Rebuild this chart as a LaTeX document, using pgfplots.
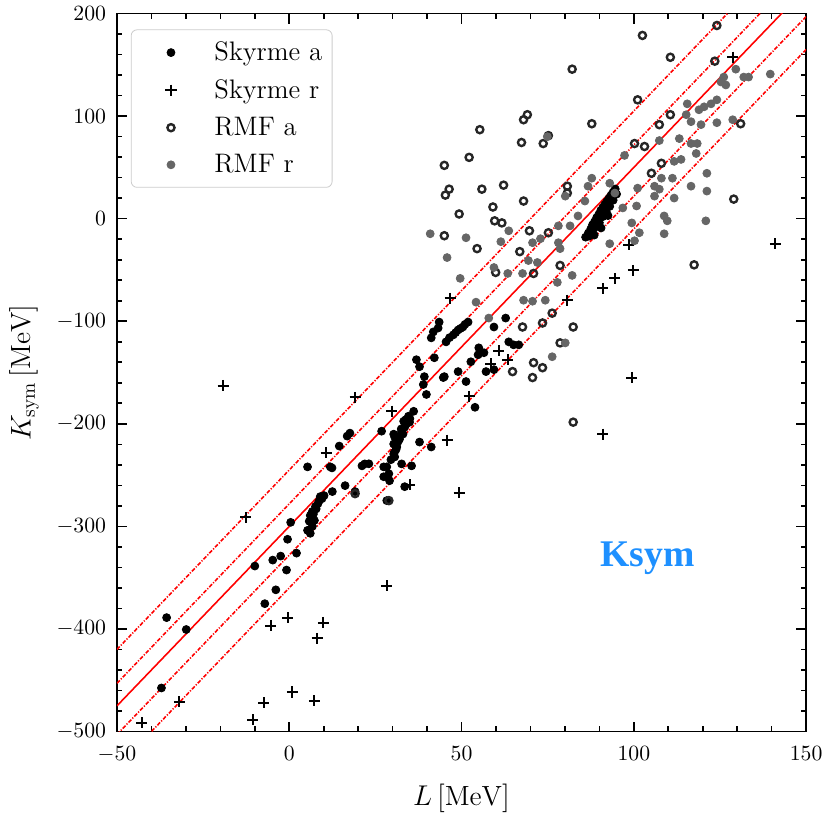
\documentclass[border=0pt]{standalone}
\usepackage{fontspec}
\usepackage{pgfplots}
\pgfplotsset{compat=1.18}
\newfontfamily\ksymfont{Liberation Serif}
\definecolor{dodger}{RGB}{30,144,255}
\pgfplotsset{mylegend/.style={legend image code/.code={\path[draw=none,fill=none] (0cm,-0.1cm) rectangle (1.3cm,0.1cm); \draw[##1] plot coordinates {(0.6cm,0cm)};}}}
\begin{document}
\begin{tikzpicture}
\begin{axis}[
  width=347.5pt, height=362pt, scale only axis,
  xmin=-50, xmax=150, ymin=-500, ymax=200,
  xtick={-50,0,50,100,150}, ytick={-500,-400,-300,-200,-100,0,100,200},
  minor x tick num=4, minor y tick num=4,
  tick align=inside, tick pos=both,
  major tick length=5pt, minor tick length=2.6pt,
  every tick/.style={black, line width=0.8pt},
  axis line style={line width=0.8pt},
  tick label style={font=\fontsize{11}{13}\selectfont},
  xticklabel style={yshift=-4pt},
  yticklabel style={xshift=-2pt},
  label style={font=\fontsize{14}{16}\selectfont},
  xlabel style={yshift=-4pt},
  ylabel style={yshift=2pt},
  xlabel={$L\,[\mathrm{MeV}]$},
  ylabel={$K_{\mathrm{sym}}\,[\mathrm{MeV}]$},
  legend cell align=left,
  legend style={at={(0.02,0.978)}, anchor=north west, draw=black!20, rounded corners=3pt,
    font=\fontsize{13.5}{15}\selectfont, row sep=4pt, inner xsep=3pt, inner ysep=4pt},
]
% Skyrme a
\addplot[only marks, mark=*, mark size=2pt, black, mylegend] table {
x y
-35.6 -389
-29.9 -400.6
-37.1 -457.6
-10 -338.7
-4.8 -332.9
-2.5 -329
2.1 -326.1
-0.8 -342.6
-3.9 -361.9
-7.1 -375.4
0.4 -296.1
-0.5 -312.6
5.3 -303.9
6.1 -306.8
6.7 -300
7.3 -294.2
6.7 -285.5
7.6 -280.7
8.7 -274.9
10.1 -270
12.5 -266.1
16.2 -260.3
19.1 -266.1
6.1 -289.4
9 -271
11.9 -242
5.3 -242
12.4 -243
14.5 -221.7
16.8 -212
17.6 -209.1
21.1 -241
23.1 -239
21.9 -239.1
27.4 -242
27.4 -251.6
28.9 -248.7
29.1 -255.5
28.3 -274.9
33.5 -261.3
26.8 -207.2
30.3 -210.1
30.3 -219.7
30.3 -229.4
30.6 -232.3
31.2 -222.6
30.6 -213
32.6 -207.2
33.5 -203.3
33.2 -197.5
34.9 -198.4
34.6 -192.6
36.1 -187.8
32.6 -239.1
35.5 -241
37.8 -217.8
41.2 -222.6
28.3 -242
31 -225
32 -215
33 -210
34 -200
35 -195
31.5 -218
32.5 -205
29.5 -235
30.5 -228
33.8 -196
31.8 -212
7.8 -283
8.3 -278
9.5 -273
5.8 -295
6.5 -292
7 -288
36.9 -137.5
37.8 -144.3
39.2 -154
38.9 -161.7
39.8 -171.4
42.1 -135.6
44.7 -154.9
45 -154
49 -149.1
51.3 -158.8
52.7 -139.5
53.9 -183.9
55 -125.9
56.5 -130.7
57.1 -149.1
59.4 -147.2
54.8 -132.7
41.8 -110.4
41.2 -116.2
43.5 -100.8
43.2 -106.6
45.5 -120.1
47.6 -113.3
49 -108.5
50.4 -105.6
51.9 -100.8
46.5 -116
48.3 -111
49.7 -107
51 -103
63.7 -120.1
65.1 -123
66.6 -123
62.8 -96.9
59.4 -105.6
86 -18
86.8 -14
87.5 -10
88 -6
88.6 -3
89.2 1
89.8 4
90.4 8
91 11
91.6 14
92.2 17
92.8 20
93.4 23
94 26
94.6 29
87 -17
88 -12
89 -8
90 -4
91 2
92 7
93 12
94 18
95 24
88.5 -16
90.5 -9
92.5 3
};
\addlegendentry{Skyrme a}
% Skyrme r
\addplot[only marks, mark=+, mark size=2.8pt, line width=1pt, black, mylegend] table {
x y
-42.8 -491.5
-31.9 -471.2
-10.6 -488.6
-5.4 -396.7
-0.5 -389
-7.4 -472.1
0.9 -461.5
9.9 -393.8
8.1 -409.3
7.3 -470.2
28.3 -358
-19.2 -162.7
-12.6 -291.3
19.1 -174.3
29.7 -187.8
10.7 -228.4
45.8 -215.9
49.3 -267.1
52.2 -173.3
34.9 -259.4
46.7 -77.6
60.8 -128.8
58.5 -141.4
63.4 -137.5
80.7 -79.5
98.5 -25.5
99.9 -50.5
94.5 -58.2
91 -67.9
99.4 -154.9
91 -210
128.7 157.4
141.1 -24.4
};
\addlegendentry{Skyrme r}
% RMF a
\addplot[only marks, mark=o, mark size=1.8pt, line width=1.2pt, black!85, mylegend] table {
x y
69.1 101.4
68 96.5
55.3 86.8
75.2 81
73.7 73.3
67.4 74.3
52.2 59.8
45 52
46.4 28.8
45.3 23
55.9 28.8
62.2 32.7
68 17.2
59.1 11.4
49.3 4.6
59.6 -2.1
61.7 -4.1
45 -16.6
54.5 -29.2
66.9 -32.1
69.7 -11.8
75.2 -13.7
80.7 25
80.7 31.7
82.1 145.8
102.5 178.7
110.6 157.4
124.1 188.4
123.5 153.6
101.1 115.9
110.6 101.4
107.4 91.7
87.8 92.6
100.2 73.3
103.1 70.4
129 19.1
108 54
105.1 44.3
78.6 -45.6
70.9 -53.4
59.9 -52.4
67.7 -105.6
73.5 -101.7
76.3 -92.1
70.9 -140.4
73.5 -145.3
70.6 -154.9
64.8 -149.1
82.4 -198.4
82.4 -105.6
78.6 -121.1
131 92.6
117.5 -45
28.9 -274.9
19.1 -268.1
};
\addlegendentry{RMF a}
% RMF r
\addplot[only marks, mark=*, mark size=2pt, black!60, mylegend] table {
x y
63.7 -11.8
40.9 -14.7
51.3 -18.6
61.4 -22.4
45.8 -37.9
49.6 -58.2
72.9 -19.5
70.6 -23.4
72 -42.7
69.4 -40.8
78.1 -7
78.6 -29.2
82.1 -55.3
77.8 -62.1
67.7 -53.4
63.4 -53.4
59.4 -47.6
74.9 80
126.1 138.1
126.7 130.4
125.3 133.3
129.6 145.8
131.9 138.1
133.3 138.1
139.6 141
115.5 112
118.9 106.2
120.4 109.1
122.4 112
124.1 115.9
115.2 101.4
116.6 94.6
119.5 91.7
124.1 93.6
128.7 96.5
107.4 76.2
97.3 61.7
113.2 78.1
116.6 73.3
118.4 73.3
118.1 63.6
113.7 57.8
111.7 55.9
121.2 44.3
116.6 31.7
121.2 26.9
108 39.5
111.2 39.5
106 31.7
107.4 28.8
106 22
111.7 20.1
100.8 12.4
108.8 2.7
109.7 -2.1
120.9 -2.1
108.8 -14.7
101.6 -13.7
99.4 -4.1
100.2 -21.5
93 -24.4
101.1 29.8
96.8 10.5
94.5 25
93 34.6
86.7 31.7
80.1 22
85.8 17.2
83.8 2.7
81.5 -7
78.1 -23.4
87.8 39.5
68 -79.5
74.3 -79.5
70.6 -80.5
76.3 -134.6
80.1 -121.1
54.2 -81.4
57.9 -96.9
};
\addlegendentry{RMF r}
% fit lines
\addplot[red, line width=0.8pt, dash pattern=on 2pt off 0.8pt on 0.6pt off 0.8pt, forget plot] coordinates {(-50,-420) (150,280)};
\addplot[red, line width=0.8pt, dash pattern=on 2pt off 0.8pt on 0.6pt off 0.8pt, forget plot] coordinates {(-50,-453) (150,247)};
\addplot[red, line width=0.8pt, forget plot] coordinates {(-50,-475) (150,225)};
\addplot[red, line width=0.8pt, dash pattern=on 2pt off 0.8pt on 0.6pt off 0.8pt, forget plot] coordinates {(-50,-503) (150,197)};
\addplot[red, line width=0.8pt, dash pattern=on 2pt off 0.8pt on 0.6pt off 0.8pt, forget plot] coordinates {(-50,-535) (150,165)};
\node[text=dodger, font=\ksymfont\bfseries\fontsize{19}{22}\selectfont] at (axis cs:104,-331) {Ksym};
\end{axis}
\path ([xshift=-59pt]current axis.south west);
\end{tikzpicture}
\end{document}
